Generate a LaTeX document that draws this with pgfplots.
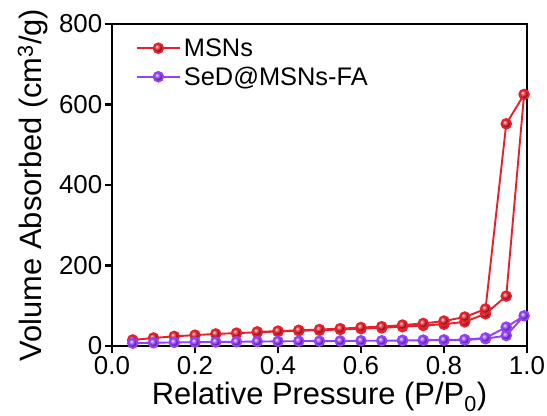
\documentclass[border=0pt]{standalone}
\usepackage{fontspec}
\setmainfont{Liberation Sans}
\usepackage{pgfplots}
\pgfplotsset{compat=1.18}
\definecolor{cred}{HTML}{E8202C}
\definecolor{cpurp}{HTML}{9440FF}

\begin{document}
\begin{tikzpicture}
\begin{axis}[
    at={(0,0)}, anchor=origin,
    scale only axis,
    width=415bp, height=322bp,
    xmin=0, xmax=1, ymin=0, ymax=800,
    xtick={0,0.2,...,1.0},
    ytick={0,200,...,800},
    xticklabel style={yshift=-3bp, /pgf/number format/.cd, fixed, fixed zerofill, precision=1},
    yticklabel style={xshift=-2bp},
    /pgf/number format/assume math mode=true,
    tick label style={font=\fontsize{26}{28}\selectfont, inner sep=0.5bp},
    axis line style={line width=2.6bp},
    every tick/.style={black, line width=2.2bp},
    major tick length=7bp,
    tick align=outside,
    xtick pos=bottom, ytick pos=left,
    xlabel={Relative Pressure (P/P$_\mathrm{0}$)},
    ylabel={Volume Absorbed (cm$^\mathrm{3}$/g)},
    label style={font=\fontsize{31}{34}\selectfont, inner sep=0.5bp},
    xlabel style={at={(axis description cs:0.5,-0.158)}, anchor=center},
    ylabel style={at={(axis description cs:-0.19,0.5)}, anchor=center},
    legend style={draw=none, fill=none, at={(axis description cs:0.05,0.88)}, anchor=west,
        font=\fontsize{25.5}{28}\selectfont, row sep=5bp,
        nodes={inner xsep=3bp}},
    legend cell align=left,
    legend image code/.code={
        \draw[#1, mark=none] (0bp,0bp) -- (43bp,0bp);
        \draw[#1, only marks] plot coordinates {(21.5bp,0bp)};
    },
    clip=false,
]
\addplot[cred, line width=1.9bp, mark=ball, mark size=4.8bp, mark options={ball color=cred}] coordinates {
    (0.05,15) (0.10,20) (0.15,24) (0.20,27) (0.25,30) (0.30,32) (0.35,34) (0.40,36)
    (0.45,38) (0.50,39) (0.55,41) (0.60,43) (0.65,45) (0.70,48) (0.75,51) (0.80,54)
    (0.85,60) (0.90,80) (0.95,124) (0.993,625)
    (0.95,552) (0.90,92) (0.85,72) (0.80,62) (0.75,56) (0.70,52) (0.65,48) (0.60,46)
    (0.55,43) (0.50,41) (0.45,39) (0.40,37) (0.35,35)
};
\addlegendentry{MSNs}
\addplot[cpurp, line width=1.9bp, mark=ball, mark size=4.8bp, mark options={ball color=cpurp}] coordinates {
    (0.05,7) (0.10,8) (0.15,9) (0.20,9.5) (0.25,10) (0.30,10.5) (0.35,11) (0.40,11.5)
    (0.45,12) (0.50,12) (0.55,12.5) (0.60,13) (0.65,13) (0.70,13.5) (0.75,14) (0.80,14.5)
    (0.85,15) (0.90,18) (0.95,26) (0.993,75)
    (0.95,47) (0.90,20) (0.85,16) (0.80,15) (0.75,14.5) (0.70,14)
};
\addlegendentry{SeD@MSNs-FA}
\end{axis}
\pgfresetboundingbox
\path[use as bounding box] (-112bp,-70bp) rectangle (435bp,346bp);
\end{tikzpicture}
\end{document}
